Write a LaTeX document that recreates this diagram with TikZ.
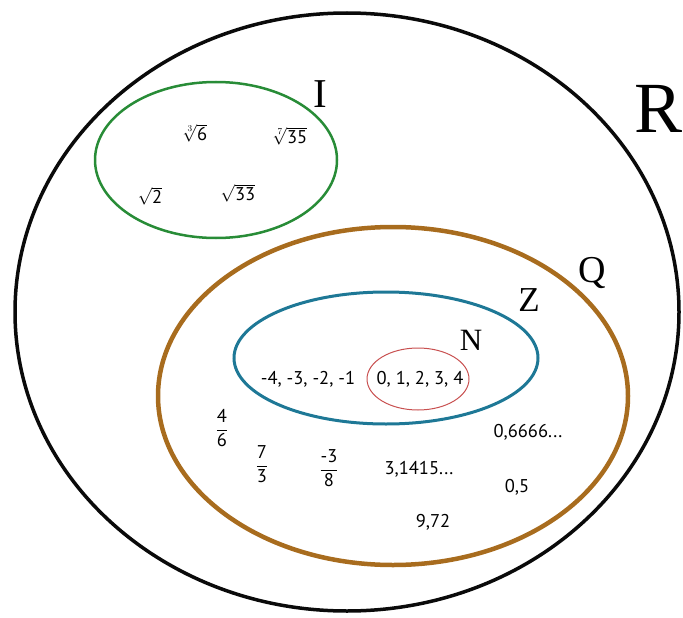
\documentclass[tikz,border=0pt]{standalone}
\usepackage{amsmath,amssymb}
\usepackage{fontspec}
\setmainfont{PT Sans}
\newfontfamily\letterfont{Liberation Serif}
\usepackage{tikz}
\usetikzlibrary{shapes.geometric}

\definecolor{realblack}{RGB}{10,10,10}
\definecolor{ratbrown}{RGB}{168,108,30}
\definecolor{intblue}{RGB}{30,120,150}
\definecolor{natred}{RGB}{200,80,80}
\definecolor{irrgreen}{RGB}{40,140,55}

\begin{document}
\begin{tikzpicture}[
  x=1pt, y=-1pt,
  every node/.style={font=\fontsize{18.5}{22}\selectfont, inner sep=0pt},
  setbox/.style={ellipse, draw, inner sep=0pt},
  setname/.style={font=\letterfont\fontsize{#1}{#1}\selectfont},
]
\useasboundingbox (0,0) rectangle (683,618);

% the sets
\node[setbox, line width=3.5pt, draw=realblack, minimum width=664pt, minimum height=598pt] (setR) at (347,312) {};
\node[setbox, line width=2.5pt, draw=irrgreen, minimum width=242pt, minimum height=156pt] (setI) at (216,160) {};
\node[setbox, line width=4.5pt, draw=ratbrown, minimum width=470pt, minimum height=338pt] (setQ) at (393,396) {};
\node[setbox, line width=3pt, draw=intblue, minimum width=304pt, minimum height=132pt] (setZ) at (386,358) {};
\node[setbox, line width=1pt, draw=natred, minimum width=102pt, minimum height=62pt] (setN) at (418,379) {};

% set names
\node[setname=72] (nameR) at (659,109) {R};
\node[setname=41] (nameI) at (320,94) {I};
\node[setname=38] (nameQ) at (592,273) {Q};
\node[setname=35] (nameZ) at (529,300) {Z};
\node[setname=31] (nameN) at (471,340) {N};

% irrationals
\node (cbrt) at (195,133) {$\sqrt[3]{\text{6}}$};
\node (sevrt) at (290,136) {$\sqrt[7]{\text{35}}$};
\node (sqtwo) at (150,196) {$\sqrt{\text{2}}$};
\node (sqthree) at (238,193) {$\sqrt{\text{33}}$};

% integers and naturals
\node (negs) at (308,379) {-4, -3, -2, -1};
\node (nats) at (420,379) {0, 1, 2, 3, 4};

% rationals
\node (fracA) at (222,428) {$\dfrac{\text{4}}{\text{6}}$};
\node (fracB) at (262,464) {$\dfrac{\text{7}}{\text{3}}$};
\node (fracC) at (329,468) {$\dfrac{\text{-3}}{\text{8}}$};
\node (decA) at (419,469) {3,1415...};
\node (decB) at (528,432) {0,6666...};
\node (decC) at (517,487) {0,5};
\node (decD) at (433,522) {9,72};
\end{tikzpicture}
\end{document}
